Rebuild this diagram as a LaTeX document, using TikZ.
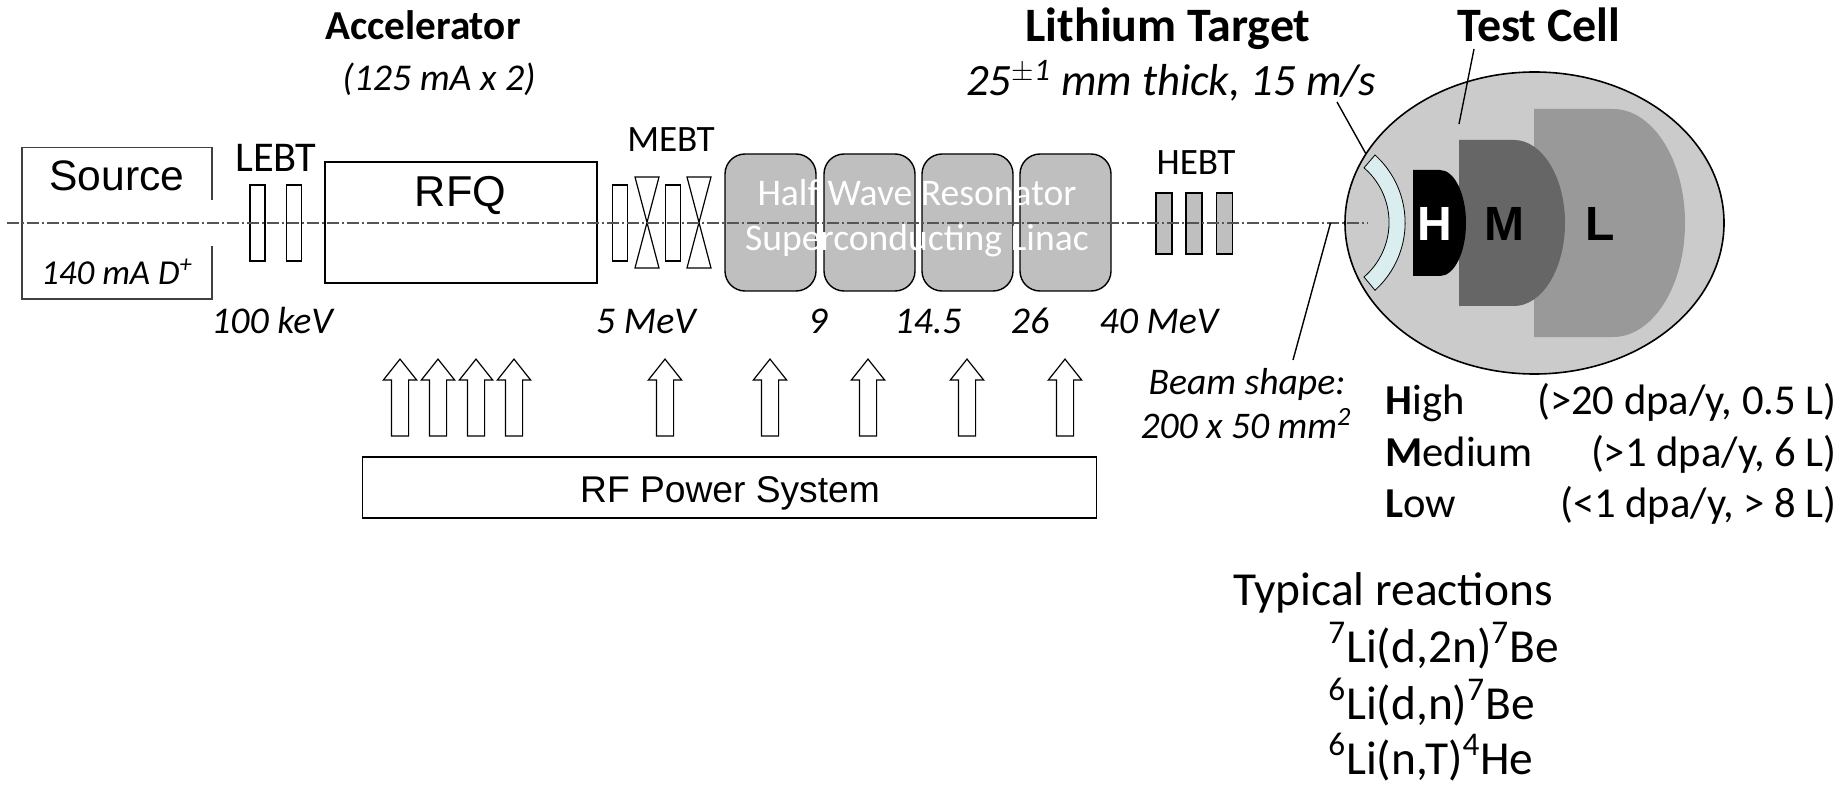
\documentclass[tikz,border=0pt]{standalone}
\usepackage{fontspec}
\setmainfont{Carlito}
\newfontfamily\arialfont{Liberation Sans}
\usetikzlibrary{shapes.arrows}

\begin{document}
\begin{tikzpicture}[x=0.5pt,y=-0.5pt,
	every node/.style={inner sep=0pt,anchor=base},
	lens/.style={draw=black,line width=0.7pt,minimum width=7.5pt,minimum height=38pt,anchor=center},
	hebtlens/.style={lens,fill=lingray,minimum width=8pt,minimum height=30.5pt},
	cavity/.style={draw=black,line width=0.7pt,fill=lingray,rounded corners=10pt,minimum width=45.5pt,minimum height=68.5pt,anchor=center},
	bowtie/.style={draw=black,line width=0.6pt},
	rfarrow/.style={draw=black,line width=0.6pt,shape=single arrow,rotate=90,anchor=center,minimum height=38.5pt,minimum width=16pt,inner sep=4pt,single arrow head extend=4pt,single arrow tip angle=77},
	title/.style={font=\fontsize{24}{28}\selectfont\bfseries},
	energy/.style={font=\fontsize{18.9}{22}\selectfont\itshape},
	hebtlabel/.style={font=\fontsize{18.6}{22}\selectfont},
	whitelabel/.style={font=\fontsize{18.8}{22}\selectfont,text=white},
	zonelabel/.style={font=\fontsize{24}{28}\selectfont\arialfont\bfseries},
	legend/.style={font=\fontsize{21.3}{25}\selectfont},
	reaction/.style={font=\fontsize{23.7}{28}\selectfont,anchor=base west},
	beamnote/.style={font=\fontsize{18.8}{22}\selectfont\itshape},
	leader/.style={draw=black,line width=0.7pt}]
	\definecolor{lingray}{HTML}{BFBFBF}
	\definecolor{celllight}{HTML}{CBCBCB}
	\definecolor{zonelow}{HTML}{999999}
	\definecolor{zonemid}{HTML}{666666}
	\definecolor{lithium}{HTML}{DAEEF0}
	\definecolor{axisgray}{HTML}{555555}
	\useasboundingbox (0,0) rectangle (1842,786);

	% accelerator line
	\draw[line width=0.7pt,draw=black!75] (212,200) -- (212,147.5) -- (22,147.5) -- (22,299) -- (212,299) -- (212,246);
	\node[lens] (lebt1) at (257.5,223) {};
	\node[lens] (lebt2) at (294,223) {};
	\node[draw=black,line width=0.7pt,minimum width=136pt,minimum height=60.5pt,anchor=center] (rfq) at (461,222.5) {};
	\node[lens] (mebt1) at (620,223) {};
	\node[lens] (mebt2) at (673,223) {};
	\foreach \bx in {635,687}
		\draw[bowtie] (\bx,177) -- ++(24,0) -- ++(-24,91) -- ++(24,0) -- cycle;
	\foreach \cx/\cname in {770.5/cav1,869.5/cav2,967.5/cav3,1065.5/cav4}
		\node[cavity] (\cname) at (\cx,222.5) {};
	\foreach \hx/\hname in {1164/hebt1,1194/hebt2,1224.5/hebt3}
		\node[hebtlens] (\hname) at (\hx,223.5) {};

	% test cell
	\draw[line width=0.8pt,fill=celllight] (1534.5,223) ellipse [x radius=94.75pt,y radius=75.5pt];
	\fill[zonelow] (1534,109) -- (1613,109) arc[start angle=90,end angle=-90,x radius=36pt,y radius=57pt] -- (1534,337) -- cycle;
	\fill[zonemid] (1459,140) -- (1514,140) arc[start angle=90,end angle=-90,x radius=25.5pt,y radius=41.5pt] -- (1459,306) -- cycle;
	\fill[black] (1413,170) -- (1440,170) arc[start angle=90,end angle=-90,x radius=13pt,y radius=26.5pt] -- (1413,276) -- cycle;
	\draw[line width=0.4pt,fill=lithium] (1375,155) arc[start angle=48,end angle=-48,radius=45.5pt] -- (1364,277) arc[start angle=-49.3,end angle=49.3,radius=36pt] -- cycle;

	% beam axis
	\coordinate (axisstart) at (7,222.7);
	\coordinate (axisend) at (1368,222.7);
	\draw[draw=axisgray,line width=0.9pt,dash pattern=on 6pt off 1.5pt on 1pt off 1.5pt] (axisstart) -- (axisend);

	% leaders
	\coordinate (beamtop) at (1330.5,223);
	\coordinate (beamend) at (1293,360);
	\coordinate (celltop) at (1474,49);
	\coordinate (cellend) at (1459,124);
	\coordinate (litop) at (1337,102);
	\coordinate (liend) at (1366,154);
	\draw[leader] (beamtop) -- (beamend);
	\draw[leader] (celltop) -- (cellend);
	\draw[leader] (litop) -- (liend);

	% RF system
	\foreach \ax in {400,438,476,514,665,770,868,967,1065}
		\node[rfarrow] (rf\ax) at (\ax,403) {};
	\node[draw=black,line width=0.7pt,minimum width=367pt,minimum height=30.5pt,anchor=center] (rfbox) at (729.5,487.5) {};
	\node[font=\fontsize{18.6}{22}\selectfont\arialfont] (rflabel) at (730,502) {RF Power System};

	% labels
	\node[title,font=\fontsize{20.6}{24}\selectfont\bfseries] (accel) at (423,40) {Accelerator};
	\node[energy] (accelsub) at (439,91) {(125 mA x 2)};
	\node[title] (target) at (1168,42) {Lithium Target};
	\node[energy,font=\fontsize{22.4}{26}\selectfont\itshape] (targetsub) at (1171,96) {25\textsuperscript{$\pm$1} mm thick, 15 m/s};
	\node[title] (cell) at (1539,42) {Test Cell};
	\node[font=\fontsize{21.3}{25}\selectfont\arialfont] (sourcelabel) at (117,191) {Source};
	\node[font=\fontsize{17.5}{21}\selectfont\itshape] (ions) at (117,285) {140 mA D\textsuperscript{+}};
	\node[font=\fontsize{21.2}{25}\selectfont] (lebtlabel) at (276,172) {LEBT};
	\node[font=\fontsize{21.6}{25}\selectfont\arialfont] (rfqlabel) at (460.5,207) {RFQ};
	\node[hebtlabel] (mebtlabel) at (671,152) {MEBT};
	\node[hebtlabel] (hebtlabel) at (1196,175) {HEBT};
	\node[whitelabel] (hwr1) at (917,206) {Half Wave Resonator};
	\node[whitelabel] (hwr2) at (917,251) {Superconducting Linac};
	\foreach \ex/\etext/\ename in {272/100 keV/e1,646/5 MeV/e2,818/9/e3,928/14.5/e4,1030/26/e5,1159/40 MeV/e6}
		\node[energy] (\ename) at (\ex,334) {\etext};
	\node[beamnote] (beam1) at (1247,394) {Beam shape:};
	\node[beamnote] (beam2) at (1246,438) {200 x 50 mm\textsuperscript{2}};
	\node[zonelabel,text=white] (zoneh) at (1435,241) {H};
	\node[zonelabel] (zonem) at (1504,241) {M};
	\node[zonelabel] (zonel) at (1600,241) {L};

	% legend
	\node[legend,anchor=base west] (high) at (1385,414) {\textbf{H}igh};
	\node[legend,anchor=base east] (highval) at (1837,414) {(>20 dpa/y, 0.5 L)};
	\node[legend,anchor=base west] (medium) at (1385,466) {\textbf{M}edium};
	\node[legend,anchor=base east] (mediumval) at (1837,466) {(>1 dpa/y, 6 L)};
	\node[legend,anchor=base west] (low) at (1385,517) {\textbf{L}ow};
	\node[legend,anchor=base east] (lowval) at (1837,517) {(<1 dpa/y, > 8 L)};

	% reactions
	\node[reaction] (typical) at (1233,605) {Typical reactions};
	\node[reaction] (react1) at (1328,662) {\textsuperscript{7}Li(d,2n)\textsuperscript{7}Be};
	\node[reaction] (react2) at (1328,719) {\textsuperscript{6}Li(d,n)\textsuperscript{7}Be};
	\node[reaction] (react3) at (1328,774) {\textsuperscript{6}Li(n,T)\textsuperscript{4}He};
\end{tikzpicture}
\end{document}
